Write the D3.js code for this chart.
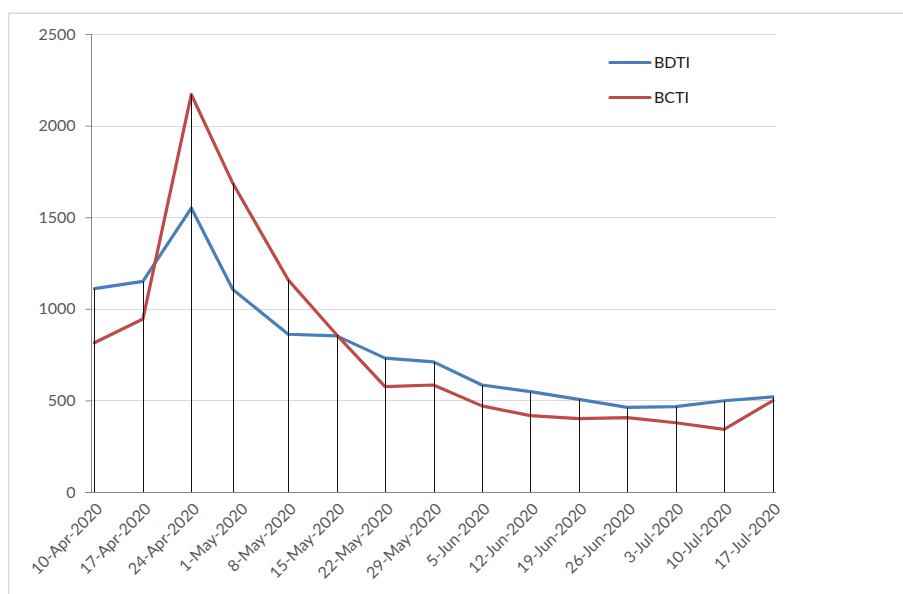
<!DOCTYPE html>
<html>
<head>
<meta charset="utf-8">
<script src="https://cdn.jsdelivr.net/npm/d3@7"></script>
<style>
  html, body { margin: 0; padding: 0; background: #fff; }
  svg { display: block; font-family: Lato, "Open Sans", sans-serif; }
</style>
</head>
<body>
<svg id="chart" width="903" height="594"></svg>
<script>
// Weekly Baltic tanker indices, spring–summer 2020
const dates = ["2020-04-10", "2020-04-17", "2020-04-24", "2020-04-30", "2020-05-08",
               "2020-05-15", "2020-05-22", "2020-05-29", "2020-06-05", "2020-06-12",
               "2020-06-19", "2020-06-26", "2020-07-03", "2020-07-10", "2020-07-17"];
const bdti = [1110, 1150, 1550, 1105, 861, 852, 731, 710, 584, 548, 506, 462, 466, 498, 519];
const bcti = [815, 944, 2170, 1685, 1158, 858, 575, 584, 470, 417, 400, 406, 378, 342, 498];
const seriesNames = ["BDTI", "BCTI"];
const seriesColors = ["#4A7EBB", "#BE4B48"];
const tickLabels = ["10-Apr-2020", "17-Apr-2020", "24-Apr-2020", "1-May-2020", "8-May-2020",
                    "15-May-2020", "22-May-2020", "29-May-2020", "5-Jun-2020", "12-Jun-2020",
                    "19-Jun-2020", "26-Jun-2020", "3-Jul-2020", "10-Jul-2020", "17-Jul-2020"];
const yTicks = [0, 500, 1000, 1500, 2000, 2500];

const parseISO = d3.utcParse("%Y-%m-%d");
const parseLabel = d3.utcParse("%d-%b-%Y");
const fmtLabel = d3.utcFormat("%-d-%b-%Y");

const rows = dates.map((d, i) => ({ date: parseISO(d), v: [bdti[i], bcti[i]] }));
const tickDates = tickLabels.map(parseLabel);

const svg = d3.select("#chart");

// chart-area frame (top and left edges visible)
svg.append("path")
  .attr("d", "M8.75,600 V13.25 H910")
  .attr("fill", "none")
  .attr("stroke", "#D9D9D9")
  .attr("stroke-width", 1.5);

const plotLeft = 91, plotRight = 776, plotTop = 34, plotBottom = 492;
const halfDay = 12 * 3600 * 1000;

const x = d3.scaleUtc()
  .domain([new Date(+tickDates[0] - halfDay), new Date(+tickDates[tickDates.length - 1] + halfDay)])
  .range([plotLeft, plotRight]);
const y = d3.scaleLinear().domain([0, 2500]).range([plotBottom, plotTop]);

// horizontal gridlines
svg.append("g")
  .selectAll("line")
  .data(yTicks.filter(t => t > 0))
  .join("line")
  .attr("x1", plotLeft).attr("x2", plotRight)
  .attr("y1", d => Math.round(y(d)) + 0.5).attr("y2", d => Math.round(y(d)) + 0.5)
  .attr("stroke", "#D9D9D9").attr("stroke-width", 1);

// y axis
const yAxis = svg.append("g")
  .attr("transform", `translate(${plotLeft + 0.5},0)`)
  .call(d3.axisLeft(y).tickValues(yTicks).tickSize(6).tickPadding(10).tickFormat(d3.format("d")));
yAxis.select(".domain").attr("stroke", "#868686").attr("d", `M0,${plotBottom + 0.5}V${plotTop}`);
yAxis.selectAll(".tick line").attr("stroke", "#868686");
yAxis.selectAll(".tick text")
  .attr("fill", "#595959").attr("font-size", 16).attr("font-family", "Lato, sans-serif");

// x axis baseline
svg.append("line")
  .attr("x1", plotLeft - 6).attr("x2", plotRight)
  .attr("y1", plotBottom + 0.5).attr("y2", plotBottom + 0.5)
  .attr("stroke", "#868686").attr("stroke-width", 1);

// x tick labels (rotated)
svg.append("g")
  .selectAll("text")
  .data(tickDates)
  .join("text")
  .attr("transform", d => `translate(${x(d) + 5},${plotBottom + 14}) rotate(-45)`)
  .attr("text-anchor", "end")
  .attr("dy", "0.35em")
  .attr("fill", "#595959")
  .attr("font-size", 16)
  .text(d => fmtLabel(d));

// series lines
const line = i => d3.line().x(d => x(d.date)).y(d => y(d.v[i]));
seriesNames.forEach((name, i) => {
  svg.append("path")
    .datum(rows)
    .attr("d", line(i))
    .attr("fill", "none")
    .attr("stroke", seriesColors[i])
    .attr("stroke-width", 3.2)
    .attr("stroke-linejoin", "round")
    .attr("stroke-linecap", "round");
});

// drop lines from the highest value to the baseline
svg.append("g")
  .selectAll("line")
  .data(rows)
  .join("line")
  .attr("x1", d => Math.round(x(d.date)) + 0.5).attr("x2", d => Math.round(x(d.date)) + 0.5)
  .attr("y1", d => y(d3.max(d.v))).attr("y2", plotBottom)
  .attr("stroke", "#111").attr("stroke-width", 1);

// legend
const legend = svg.append("g");
seriesNames.forEach((name, i) => {
  const ly = 62.5 + i * 35;
  legend.append("line")
    .attr("x1", 610).attr("x2", 650).attr("y1", ly).attr("y2", ly)
    .attr("stroke", seriesColors[i]).attr("stroke-width", 3.2).attr("stroke-linecap", "round");
  legend.append("text")
    .attr("x", 654).attr("y", ly).attr("dy", "0.36em")
    .attr("fill", "#1a1a1a").attr("font-size", 16)
    .text(name);
});
</script>
</body>
</html>
